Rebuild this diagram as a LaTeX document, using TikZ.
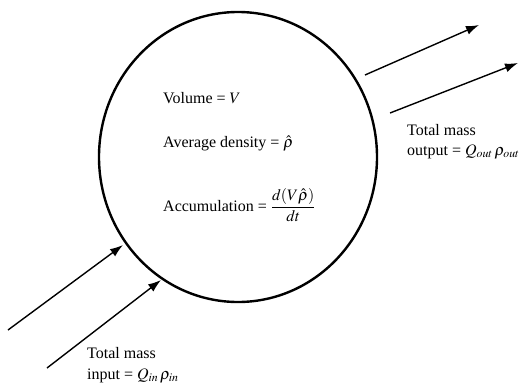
\documentclass[tikz,border=0pt]{standalone}
\usepackage{mathptmx}
\usepackage[no-math]{fontspec}
\setmainfont{Liberation Serif}
\usetikzlibrary{arrows.meta,shapes.geometric}
\begin{document}
\begin{tikzpicture}[x=1pt,y=-1pt,
  lbl/.style={anchor=base west,inner sep=0pt,font=\fontsize{16}{19}\selectfont},
  flow/.style={line width=1.4pt,-{Latex[length=13pt,width=9pt]}},
  vessel/.style={draw,ellipse,line width=2.4pt,inner sep=0pt}]
\useasboundingbox (0,0) rectangle (527,386);
\node[vessel,minimum width=278pt,minimum height=290pt] (cv) at (238,157) {};
\node[lbl] (vol) at (163,103) {Volume = $V$};
\node[lbl] (den) at (163,147) {Average density = $\hat{\rho}$};
\node[lbl] (acc) at (163,211) {Accumulation = $\displaystyle\frac{d(V\hat{\rho})}{dt}$};
\coordinate (i1s) at (8,330);
\coordinate (i1e) at (123,245);
\coordinate (i2s) at (47,368);
\coordinate (i2e) at (161,280);
\coordinate (o1s) at (365,75);
\coordinate (o1e) at (479,25);
\coordinate (o2s) at (390,113);
\coordinate (o2e) at (518,63);
\draw[flow] (i1s) -- (i1e);
\draw[flow] (i2s) -- (i2e);
\draw[flow] (o1s) -- (o1e);
\draw[flow] (o2s) -- (o2e);
\node[lbl] (in1) at (87,358) {Total mass};
\node[lbl] (in2) at (87,379) {input = $Q_{in}\,\rho_{in}$};
\node[lbl] (out1) at (407,135) {Total mass};
\node[lbl] (out2) at (407,155) {output = $Q_{out}\,\rho_{out}$};
\end{tikzpicture}
\end{document}
